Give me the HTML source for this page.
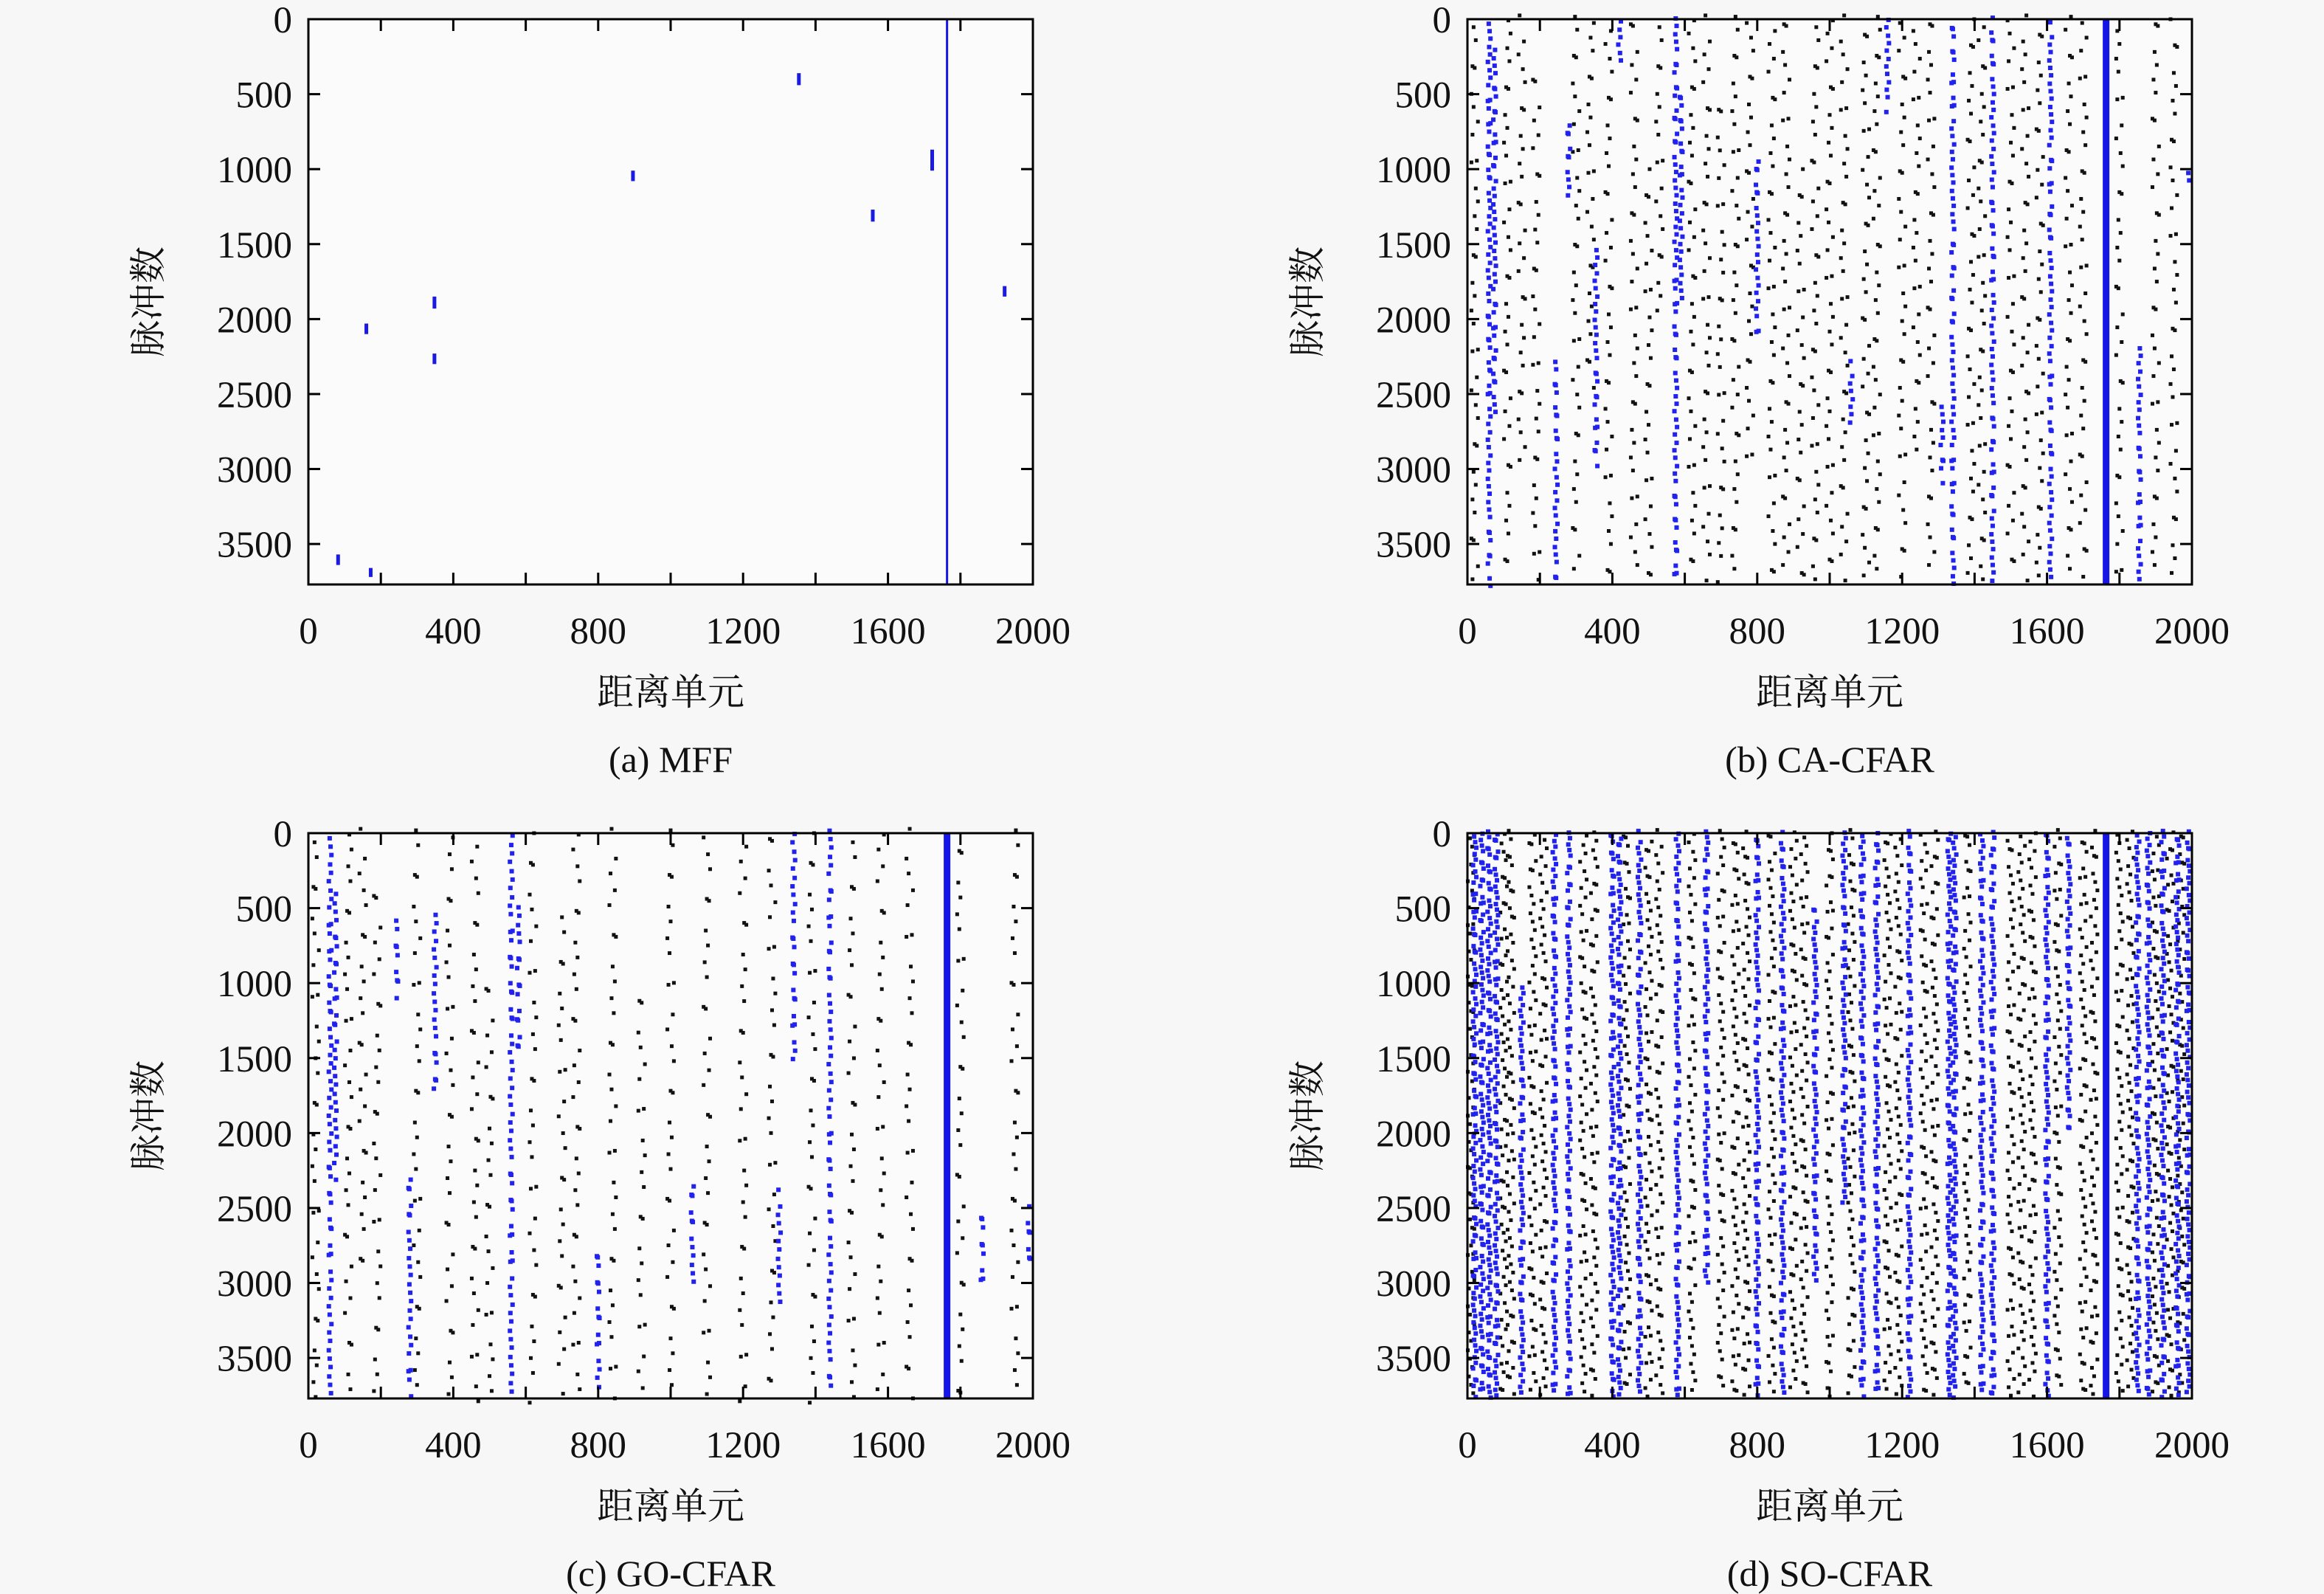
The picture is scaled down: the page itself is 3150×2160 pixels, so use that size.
<!DOCTYPE html>
<html><head><meta charset="utf-8">
<style>
html,body{margin:0;padding:0;background:#f7f7f7;}
svg{display:block;}
text{font-family:"Liberation Serif","Noto Serif CJK SC",serif;fill:#111;}
</style></head>
<body>
<svg id="fig" width="3150" height="2160" viewBox="0 0 3150 2160" xmlns="http://www.w3.org/2000/svg"></svg>
<script>
// ---- data ----
const xTicks=[0,400,800,1200,1600,2000];
const yTicks=[0,500,1000,1500,2000,2500,3000,3500];
const captions=["(a) MFF","(b) CA-CFAR","(c) GO-CFAR","(d) SO-CFAR"];
const targetX=1763;
// MFF short detections [x, yStart, yEnd]
const mffSegments=[[82,3570,3640],[172,3660,3720],[160,2030,2100],[348,1850,1930],[348,2230,2300],[896,1010,1080],[1354,360,440],[1558,1270,1350],[1722,870,1010],[1922,1780,1850]];
// CFAR track detections [x, yStart, yEnd]
const caBlue=[[60,0,3760],[75,200,2600],[245,2300,3760],[280,700,1200],[355,1500,3000],[420,0,300],[575,0,3760],[590,500,1900],[800,900,2100],[1060,2300,2700],[1160,0,600],[1310,2600,3100],[1340,0,3760],[1450,0,3760],[1610,0,3760],[1855,2200,3760],[1990,1000,1100]];
const caBlack=[[20,0,3760],[110,0,3760],[150,0,3000],[190,300,3760],[300,0,3760],[340,0,2500],[390,0,3760],[460,0,3760],[500,1000,3760],[530,0,2000],[620,0,3760],[660,0,3760],[700,500,3760],[740,0,3760],[780,0,3000],[840,0,3760],[880,0,3760],[920,1000,3760],[960,0,3760],[1000,0,3760],[1040,0,3760],[1100,0,3760],[1130,0,3760],[1200,0,3760],[1240,0,3000],[1280,0,3760],[1390,0,3760],[1420,0,3760],[1500,0,3760],[1540,0,3760],[1580,0,3760],[1660,0,3760],[1700,0,3760],[1800,0,3760],[1900,0,3760],[1950,0,3760]];
const goBlue=[[60,0,3760],[75,400,2300],[245,600,1100],[280,2300,3760],[350,500,1800],[560,0,3760],[580,500,1500],[800,2800,3700],[1060,2300,3000],[1300,2400,3200],[1340,0,1500],[1440,0,3760],[1860,2500,3000],[1990,2500,2900]];
const goBlack=[[20,0,3760],[110,0,3760],[150,0,3000],[190,300,3760],[300,0,3760],[390,0,3760],[460,0,3760],[500,1000,3760],[620,0,3760],[700,500,3760],[740,0,3760],[840,0,3760],[920,1000,3760],[1000,0,3760],[1100,0,3760],[1200,0,3760],[1280,0,3760],[1390,0,3760],[1500,0,3760],[1580,0,3760],[1660,0,3760],[1800,0,3760],[1950,0,3760]];
const soBlue=[[20,0,3760],[40,0,3760],[60,0,3760],[80,0,3760],[150,1000,3760],[240,0,3760],[280,0,3760],[400,0,3760],[420,0,3760],[475,0,3760],[580,0,3760],[660,0,3000],[800,0,3760],[870,0,3760],[960,500,3000],[1040,0,2500],[1090,0,3760],[1130,0,3760],[1220,0,3760],[1330,0,3760],[1345,0,3760],[1420,0,3760],[1450,0,3760],[1600,0,3760],[1660,0,2000],[1850,0,3760],[1880,0,3760],[1920,0,3760],[1960,0,3760],[1990,0,3760]];
const soBlack=[[10,0,3760],[100,0,3760],[120,0,3760],[180,0,3760],[210,0,3760],[320,0,3760],[350,0,3760],[440,0,3760],[500,0,3760],[530,0,3760],[620,0,3760],[700,0,3760],[740,0,3760],[770,0,3760],[840,0,3760],[900,0,3760],[930,0,3760],[1000,0,3760],[1060,0,3760],[1160,0,3760],[1190,0,3760],[1260,0,3760],[1290,0,3760],[1380,0,3760],[1500,0,3760],[1530,0,3760],[1560,0,3760],[1630,0,3760],[1700,0,3760],[1730,0,3760],[1800,0,3760],[1830,0,3760],[1900,0,3760],[1940,0,3760],[1970,0,3760]];
// ---- layout ----
const NS="http://www.w3.org/2000/svg";
const svg=document.getElementById('fig');
const PW=982,PH=766,XMAX=2000,YMAX=3770;
function el(t,a,p){const e=document.createElementNS(NS,t);for(const k in a)e.setAttribute(k,a[k]);(p||svg).appendChild(e);return e;}
function panel(ox,oy,idx,draw){
  const g=el('g',{});
  
  
  const sx=v=>ox+v/XMAX*PW, sy=v=>oy+v/YMAX*PH;
  el('rect',{x:ox,y:oy,width:PW,height:PH,fill:'#fbfbfb'},g);
  const marks=el('g',{},g);
  
  
  draw(marks,sx,sy);
  const fr=el('rect',{x:ox,y:oy,width:PW,height:PH,fill:'none',stroke:'#000','stroke-width':3},g);
  
  
  for(let v=0;v<=XMAX;v+=200){
    el('line',{x1:sx(v),x2:sx(v),y1:oy+PH,y2:oy+PH-16,stroke:'#000','stroke-width':3},g);
    el('line',{x1:sx(v),x2:sx(v),y1:oy,y2:oy+16,stroke:'#000','stroke-width':3},g);
  }
  xTicks.forEach(v=>{const t=el('text',{x:sx(v),y:oy+PH+80,'font-size':51,'text-anchor':'middle'},g);t.textContent=v;
    
    });
  yTicks.forEach(v=>{
    el('line',{x1:ox,x2:ox+16,y1:sy(v),y2:sy(v),stroke:'#000','stroke-width':3},g);
    el('line',{x1:ox+PW,x2:ox+PW-16,y1:sy(v),y2:sy(v),stroke:'#000','stroke-width':3},g);
    const t=el('text',{x:ox-22,y:sy(v)+18,'font-size':51,'text-anchor':'end'},g);t.textContent=v;
    
    });
  const xt=el('text',{x:ox+PW/2,y:oy+PH+163,'font-size':50,'text-anchor':'middle'},g);xt.textContent='距离单元';
  
  
  const yx=ox-200, yy=oy+PH/2;
  const yt=el('text',{x:yx,y:yy,'font-size':50,'text-anchor':'middle',transform:`rotate(-90 ${yx} ${yy})`},g);yt.textContent='脉冲数';
  
  
  const cp=el('text',{x:ox+PW/2,y:oy+PH+254,'font-size':50,'text-anchor':'middle'},g);cp.textContent=captions[idx];
  
  
}
function tracks(g,sx,sy,list,color,step,size,skip,jit){
  list.forEach((tr,k)=>{
    let i=0;
    for(let y=tr[1];y<=tr[2];y+=step,i++){
      if(((i*13+k*7)%skip)===0) continue;
      const jx=((i*37+k*11)%7-3)*jit;
      const jy=((i*29+k*5)%9-4)*step*0.12;
      const d=el('rect',{x:sx(tr[0]+jx)-size/2,y:sy(y+jy)-size/2,width:size,height:size,fill:color},g);
      
      
    }
  });
}
function targetLine(g,sx,sy,w){
  const l=el('rect',{x:sx(targetX)-w/2,y:sy(0),width:w,height:sy(YMAX)-sy(0),fill:'#1515e6'},g);
  
  
}
const L1=418,L2=1989,T1=26,T2=1129;
panel(L1,T1,0,(g,sx,sy)=>{
  targetLine(g,sx,sy,3);
  mffSegments.forEach(s=>{const r=el('rect',{x:sx(s[0])-2.5,y:sy(s[1]),width:5,height:sy(s[2])-sy(s[1]),fill:'#1a1ae0'},g);
    
    });
});
panel(L2,T1,1,(g,sx,sy)=>{
  tracks(g,sx,sy,caBlack,'#111',70,5,3,3);
  tracks(g,sx,sy,caBlue,'#2222ee',40,6,4,1.2);
  targetLine(g,sx,sy,9);
});
panel(L1,T2,2,(g,sx,sy)=>{
  tracks(g,sx,sy,goBlack,'#111',80,5,3,3);
  tracks(g,sx,sy,goBlue,'#2222ee',45,6,4,1.2);
  targetLine(g,sx,sy,9);
});
panel(L2,T2,3,(g,sx,sy)=>{
  tracks(g,sx,sy,soBlack,'#111',45,5,4,3);
  tracks(g,sx,sy,soBlue,'#2222ee',30,6,4,1.5);
  targetLine(g,sx,sy,9);
});
</script>
</body></html>
